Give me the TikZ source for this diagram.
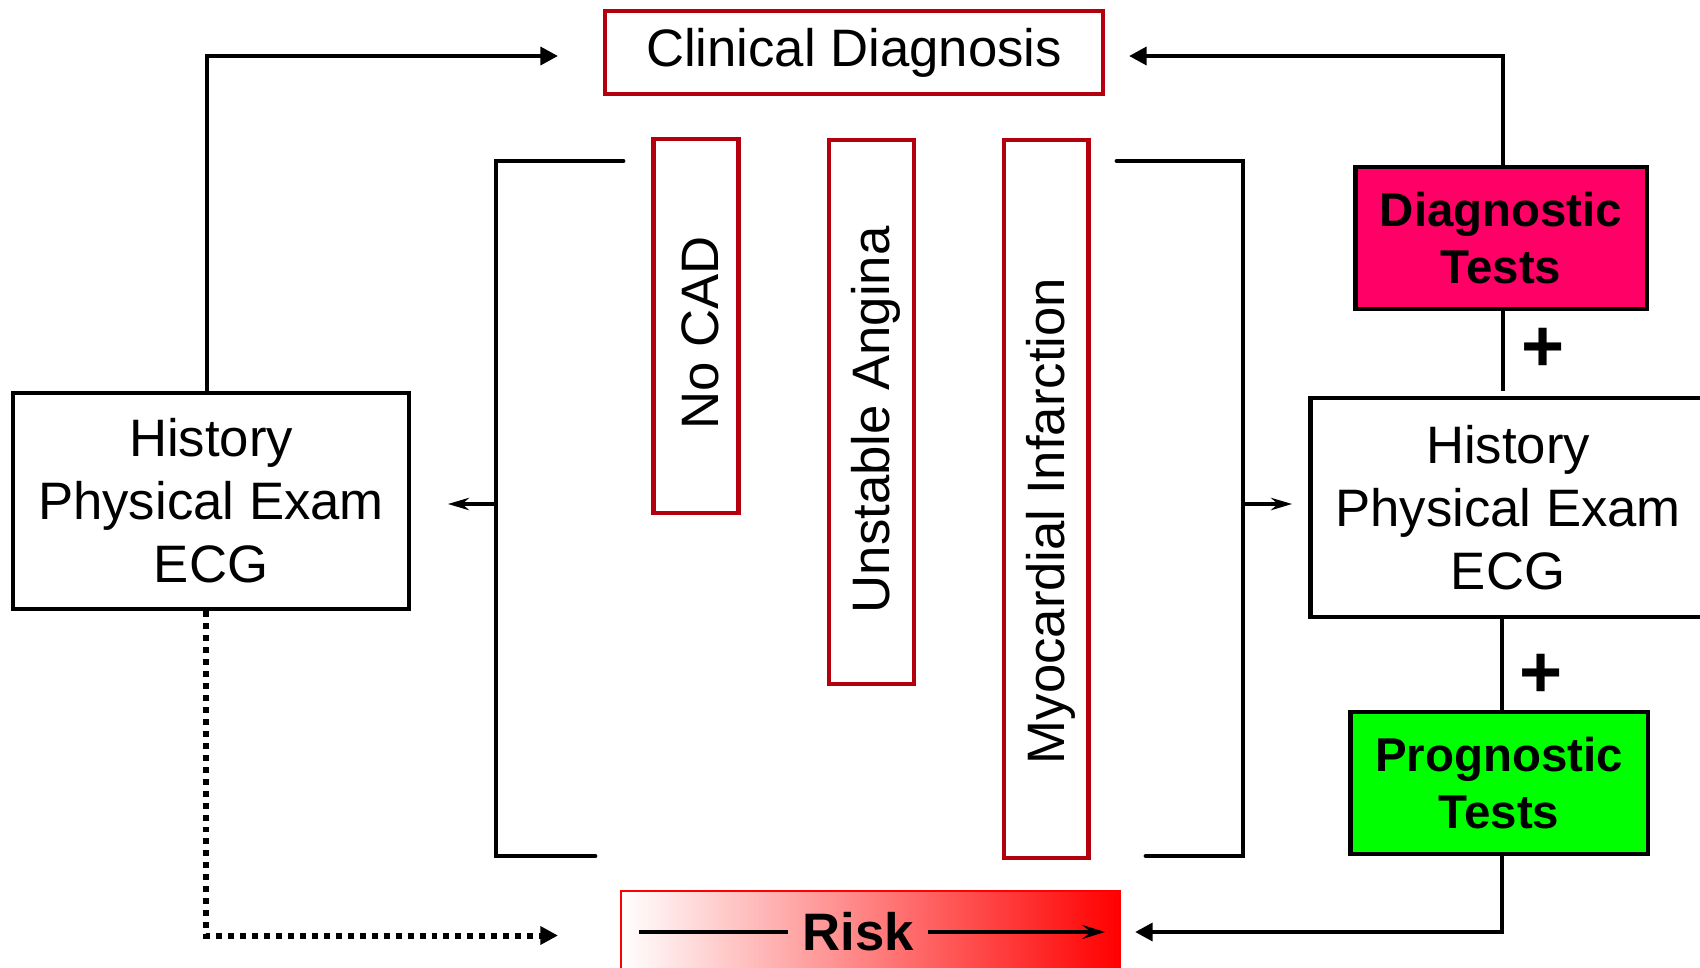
\documentclass[tikz,border=0pt]{standalone}
\usepackage{fontspec}
\setmainfont{Liberation Sans}
\usetikzlibrary{arrows.meta}
\definecolor{boxred}{RGB}{180,0,12}
\definecolor{diagpink}{RGB}{255,0,102}
\definecolor{proggreen}{RGB}{0,255,0}
\tikzset{
  redbox/.style={draw=boxred,line width=2.3pt,inner sep=0pt,font=\fontsize{30}{36}\selectfont},
  hpebox/.style={draw,line width=2.8pt,fill=white,align=center,minimum width=7.92cm,minimum height=4.32cm,font=\fontsize{30}{35.8}\selectfont},
  testbox/.style={draw,line width=2.8pt,align=center,minimum height=2.84cm,font=\fontsize{27}{32}\selectfont\bfseries},
  conn/.style={line width=2.8pt,-{Triangle[length=10pt,width=10pt]}},
  dotconn/.style={line width=3.4pt,dash pattern=on 3.4pt off 3.4pt,-{Triangle[length=10pt,width=10pt]}},
  bracketline/.style={line width=2.8pt,line cap=round},
  thinarr/.style={line width=2.2pt,-{Stealth[length=12pt,width=7pt]}},
  plussign/.style={font=\fontsize{42}{42}\selectfont\bfseries}
}
\begin{document}
\begin{tikzpicture}[x=0.02cm,y=-0.02cm]
\useasboundingbox (0,0) rectangle (1700,967);

\node[redbox,minimum width=9.96cm,minimum height=1.66cm] (diag) at (854,52.5) {Clinical Diagnosis};

\foreach \n/\x/\y/\h/\s/\t in {nocad/696/326/7.48cm/8pt/No CAD, ua/871.5/412/10.88cm/9pt/Unstable Angina, mi/1046/499/14.36cm/25pt/Myocardial Infarction}
{
    \node[redbox,rotate=90,minimum width=\h,minimum height=1.7cm] (\n) at (\x,\y) {\raisebox{-2.5pt}[\height][\depth]{\t\hspace*{\s}}};
}

\node[hpebox] (hpeL) at (211,501) {History\\Physical Exam\\ECG};
\node[hpebox,minimum height=4.38cm] (hpeR) at (1508,507.5) {History\\Physical Exam\\ECG};
\node[testbox,fill=diagpink,minimum width=5.84cm] (dtest) at (1501,238) {Diagnostic\\Tests};
\node[testbox,fill=proggreen,minimum width=5.96cm] (ptest) at (1499,783) {Prognostic\\Tests};
\node[plussign] (plusA) at (1543,350) {+};
\node[plussign] (plusB) at (1541,676) {+};

\node[draw=red,line width=1.2pt,left color=white,right color=red,minimum width=9.98cm,minimum height=1.78cm] (risk) at (870.5,935.5) {};
\node[font=\fontsize{30}{36}\selectfont\bfseries,inner xsep=8pt] (risktxt) at (858,932) {Risk};
\coordinate (rl) at (639,932);
\coordinate (rr) at (1105,932);
\draw[line width=2.3pt] (rl) -- (risktxt.west);
\draw[line width=2.3pt,-{Stealth[length=13pt,width=8pt,inset=5pt]}] (risktxt.east) -- (rr);

\draw[bracketline] (623,161) -- (496,161) -- (496,856) -- (595,856);
\draw[bracketline] (1117,161) -- (1243,161) -- (1243,856) -- (1146,856);
\coordinate (lb) at (496,504);
\coordinate (rb) at (1243,504);
\draw[thinarr,shorten >=0.73cm] (lb) -- (lb -| hpeL.east);
\draw[thinarr,shorten >=0.31cm] (rb) -- (rb -| hpeR.west);

\draw[conn,shorten >=0.9cm] ([xshift=-0.08cm]hpeL.north) |- ([yshift=-0.07cm]diag.west);
\draw[conn,shorten >=0.48cm] ([xshift=0.04cm]dtest.north) |- ([yshift=-0.07cm]diag.east);
\draw[line width=2.8pt,shorten >=0.1cm] ([xshift=0.04cm]dtest.south) -- ([xshift=0.04cm]dtest.south |- hpeR.north);
\draw[line width=2.8pt] ([xshift=0.06cm]hpeR.south -| ptest.north) -- ([xshift=0.06cm]ptest.north);
\draw[conn,shorten >=0.28cm] ([xshift=0.06cm]ptest.south) |- ([yshift=0.07cm]risk.east);
\draw[dotconn,shorten >=1.24cm] ([xshift=-0.1cm]hpeL.south) |- (risk.west);

\end{tikzpicture}
\end{document}
